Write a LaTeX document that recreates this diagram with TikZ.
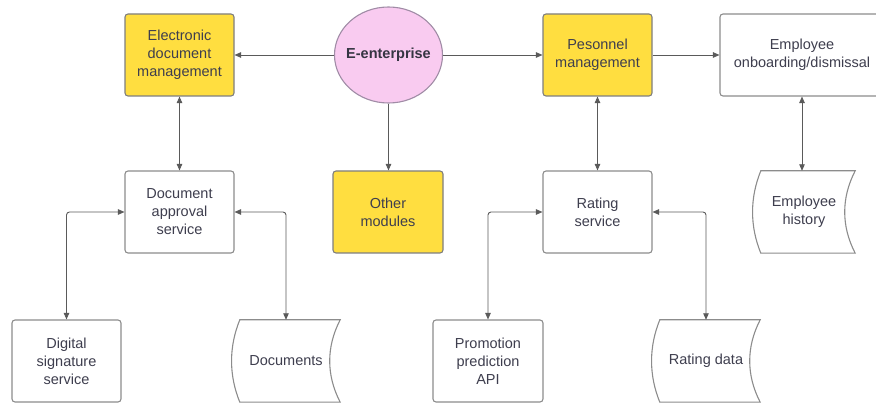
\documentclass[tikz,border=0pt]{standalone}
\usepackage{fontspec}
\setmainfont{Liberation Sans}
\usetikzlibrary{arrows.meta,shapes.geometric}
\definecolor{txt}{HTML}{3E3E4E}
\definecolor{boxln}{HTML}{8C8C8C}
\definecolor{conln}{HTML}{5A5A5A}
\definecolor{ylw}{HTML}{FFDE40}
\definecolor{pnk}{HTML}{F9CBF0}
\definecolor{pnkln}{HTML}{A08CA6}
\tikzset{
  lbl/.style={font=\fontsize{14.5pt}{18pt}\selectfont, text=txt, align=center, inner sep=0pt},
  plainbox/.style={lbl, draw=boxln, line width=1.1pt, rounded corners=3pt, fill=white},
  yellowbox/.style={plainbox, fill=ylw, draw=boxln!90!black},
  storebox/.style={lbl},
  conn/.style={draw=conln, line width=0.9pt, rounded corners=3pt},
  tip/.style={-{Triangle[length=6.5pt,width=5.5pt]}},
  tips/.style={{Triangle[length=6.5pt,width=5.5pt]}-{Triangle[length=6.5pt,width=5.5pt]}},
}
\newcommand\storedshape[1]{%
  \draw[draw=boxln, line width=1.1pt, fill=white]
    ([xshift=8pt]#1.north west) -- (#1.north east)
    .. controls ([xshift=-14pt,yshift=-27pt]#1.north east) and ([xshift=-14pt,yshift=27pt]#1.south east) .. (#1.south east)
    -- ([xshift=8pt]#1.south west)
    .. controls ([xshift=-3pt,yshift=27pt]#1.south west) and ([xshift=-3pt,yshift=-27pt]#1.north west) .. cycle;}
\begin{document}
\begin{tikzpicture}[x=1pt,y=-1pt]
\useasboundingbox (0,0) rectangle (876,403);
\clip (0,0) rectangle (876,403);
% top row
\node[yellowbox, minimum width=109pt, minimum height=82pt] (edm) at (179.5,55) {Electronic\\document\\management};
\node[ellipse, draw=pnkln, fill=pnk, line width=1.1pt, minimum width=108pt, minimum height=96pt, inner sep=0pt,
      font=\fontsize{14.5pt}{18pt}\selectfont\bfseries, text=txt!85!black] (ent) at (388.5,55) {\makebox[0pt]{E-enterprise}};
\node[yellowbox, minimum width=109pt, minimum height=82pt] (pm) at (597.5,55) {Pesonnel\\management};
\node[plainbox, minimum width=164pt, minimum height=82pt] (eod) at (802,55) {Employee\\onboarding/dismissal};
% middle row
\node[plainbox, minimum width=109pt, minimum height=82pt] (dap) at (179.5,212) {Document\\approval\\service};
\node[yellowbox, minimum width=110pt, minimum height=82pt] (oth) at (388,212) {Other\\modules};
\node[plainbox, minimum width=109pt, minimum height=82pt] (rat) at (597.5,212) {Rating\\service};
\node[storebox, minimum width=102pt, minimum height=82pt] (eh) at (804,212) {};
\storedshape{eh}
\node[lbl] (ehtxt) at (eh) {Employee\\history};
% bottom row
\node[plainbox, minimum width=109pt, minimum height=82pt] (dig) at (66.5,361) {Digital\\signature\\service};
\node[storebox, minimum width=108pt, minimum height=82pt] (docs) at (286,361) {};
\storedshape{docs}
\node[lbl] (docstxt) at (docs) {Documents};
\node[plainbox, minimum width=110pt, minimum height=82pt] (pro) at (488,361) {Promotion\\prediction\\API};
\node[storebox, minimum width=108pt, minimum height=82pt] (rd) at (706,361) {};
\storedshape{rd}
\node[lbl] (rdtxt) at (rd) {Rating data};
% connectors
\draw[conn, tip] (ent.west) -- (edm.east);
\draw[conn, tip] (ent.east) -- (pm.west);
\draw[conn, tip] (pm.east) -- (eod.west);
\draw[conn, tip] (ent.south) -- (ent.south |- oth.north);
\draw[conn, tips] (edm.south) -- (dap.north);
\draw[conn, tips] (pm.south) -- (rat.north);
\draw[conn, tips] (eod.south) -- (eod.south |- eh.north);
\draw[conn, tips] (dig.north) |- (dap.west);
\draw[conn, tips] (docs.north) |- (dap.east);
\draw[conn, tips] (pro.north) |- (rat.west);
\draw[conn, tips] (rd.north) |- (rat.east);
\end{tikzpicture}
\end{document}
